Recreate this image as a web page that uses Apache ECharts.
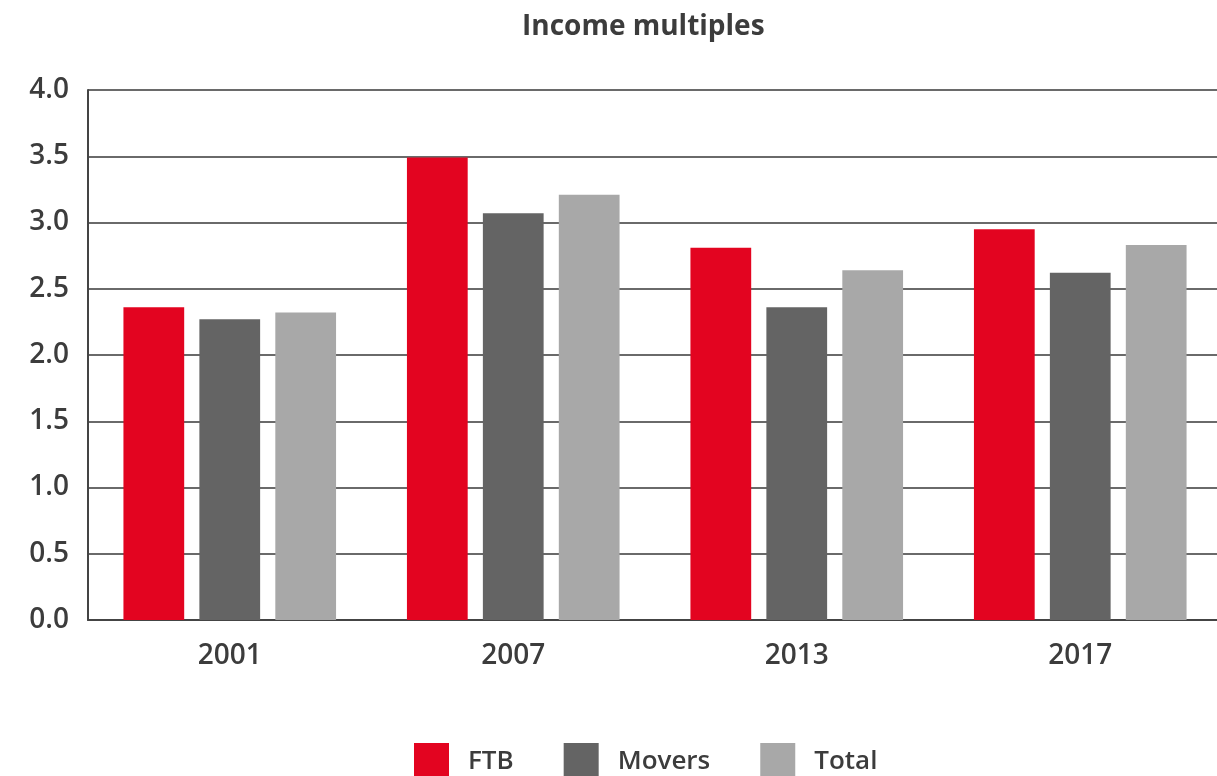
<!DOCTYPE html>
<html>
<head>
    <meta charset="UTF-8">
    <title>Income multiples</title>
    <script src="https://cdn.jsdelivr.net/npm/echarts/dist/echarts.min.js"></script>
    <style>
        body { margin: 0; background: #fff; }
    </style>
</head>
<body>
    <div id="chart" style="width: 1217px;height:776px;"></div>
    <script type="text/javascript">
        var myChart = echarts.init(document.getElementById('chart'));

        // values
        var years = ['2001', '2007', '2013', '2017'];
        var ftb = [2.36, 3.49, 2.81, 2.95];
        var movers = [2.27, 3.07, 2.36, 2.62];
        var total = [2.32, 3.21, 2.64, 2.83];

        var textColor = '#3c3c3c';
        var font = 'Open Sans';

        var option = {
            backgroundColor: '#fff',
            title: {
                text: 'Income multiples',
                left: 517,
                top: 8,
                textStyle: { fontFamily: font, fontSize: 28, fontWeight: 700, color: textColor }
            },
            legend: {
                top: 738,
                left: 409,
                icon: 'rect',
                itemWidth: 35,
                itemHeight: 38,
                itemGap: 50,
                textStyle: { fontFamily: font, fontSize: 26, fontWeight: 600, color: textColor, padding: [0, 0, 0, 14] }
            },
            grid: { left: 88, right: -5, top: 90, bottom: 156, outerBoundsMode: 'none' },
            xAxis: {
                type: 'category',
                data: years,
                axisLine: { lineStyle: { color: '#444', width: 2 } },
                axisTick: { inside: true, length: 14, lineStyle: { color: '#444', width: 2 } },
                axisLabel: { fontFamily: font, fontSize: 28, fontWeight: 600, color: textColor, margin: 22 }
            },
            yAxis: {
                type: 'value',
                min: 0,
                max: 4,
                interval: 0.5,
                axisLine: { show: true, lineStyle: { color: '#444', width: 2 } },
                axisTick: { show: false },
                splitLine: { lineStyle: { color: '#6a6a6a', width: 2 } },
                axisLabel: {
                    fontFamily: font, fontSize: 28, fontWeight: 600, color: textColor, margin: 19,
                    formatter: function (v) { return v.toFixed(1); }
                }
            },
            series: [
                { name: 'FTB', type: 'bar', data: ftb, itemStyle: { color: '#e30420' }, barGap: '25%', barCategoryGap: '25%' },
                { name: 'Movers', type: 'bar', data: movers, itemStyle: { color: '#646464' } },
                { name: 'Total', type: 'bar', data: total, itemStyle: { color: '#a8a8a8' } }
            ]
        };

        myChart.setOption(option);
    </script>
</body>
</html>
